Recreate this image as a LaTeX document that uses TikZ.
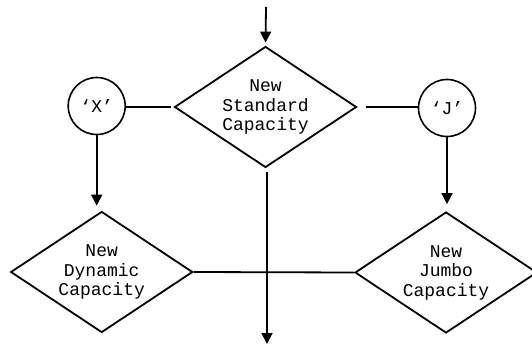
\documentclass[tikz,border=0pt]{standalone}
\usepackage{fontspec}
\setmonofont{Liberation Mono}
\usetikzlibrary{shapes.geometric,arrows.meta}
\tikzset{
  dec/.style={shape=diamond, draw, line width=1.8pt, inner sep=0pt, aspect=1.5,
    minimum width=182pt, minimum height=121pt, align=center,
    font=\ttfamily\fontsize{18}{19.5}\selectfont},
  conn/.style={shape=circle, draw, line width=1.6pt, inner sep=0pt, minimum size=57pt,
    font=\ttfamily\fontsize{18}{19.5}\selectfont},
  link/.style={line width=1.8pt},
  arr/.style={line width=1.8pt, -{Triangle[length=11pt,width=11pt]}}
}
\begin{document}
\begin{tikzpicture}[x=1pt,y=-1pt]
\useasboundingbox (0,0) rectangle (532,345);
\clip (0,0) rectangle (532,345);
\node[dec] (std) at (265.5,107) {New\\Standard\\Capacity};
\node[dec] (dyn) at (101.7,272) {New\\Dynamic\\Capacity};
\node[dec] (jum) at (446,272.5) {New\\Jumbo\\Capacity};
\node[conn] (x) at (96.7,106) {‘X’};
\node[conn] (j) at (447,108) {‘J’};
\coordinate (in) at (266,7);
\coordinate (out) at (267,344);
\draw[arr, shorten >=3pt] (in) -- (std.north);
\draw[link, shorten >=3pt] (x.east |- std.west) -- (std.west);
\draw[link, shorten <=9pt] (std.east) -- (j.west |- std.east);
\draw[arr, shorten >=5pt] (x.south) -- (x.south |- dyn.north);
\draw[arr, shorten >=7pt] (j.south) -- (j.south |- jum.north);
\draw[link] (dyn.east) -- (jum.west);
\draw[arr, shorten <=4pt] (std.south -| out) -- (out);
\end{tikzpicture}
\end{document}
